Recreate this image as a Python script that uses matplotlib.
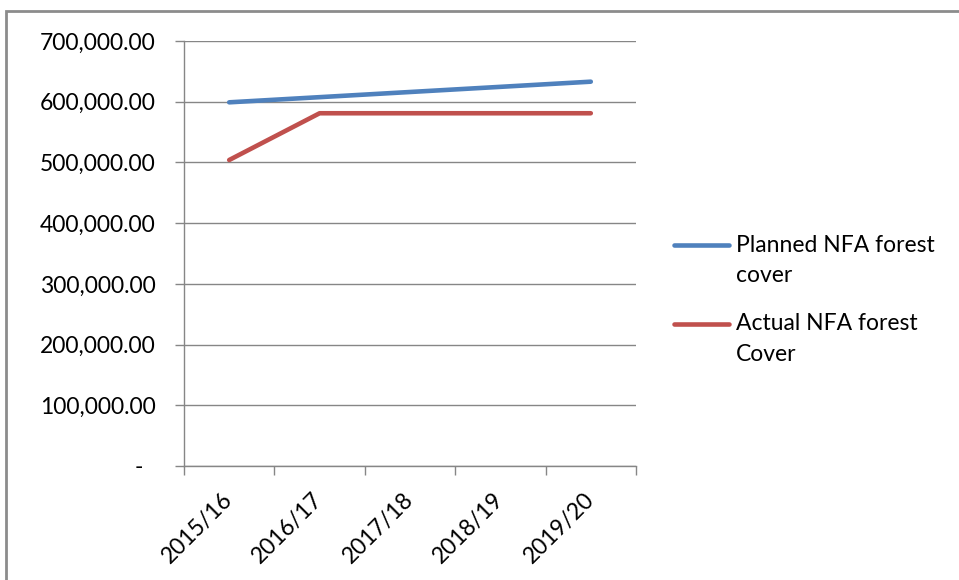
import numpy as np
import matplotlib.pyplot as plt
import matplotlib.transforms as mtransforms
from matplotlib.patches import Rectangle
from matplotlib.legend_handler import HandlerLine2D
from matplotlib.ticker import FuncFormatter, MultipleLocator, FixedLocator

plt.rcParams['font.family'] = ['Lato', 'DejaVu Sans']

years = ['2015/16', '2016/17', '2017/18', '2018/19', '2019/20']
planned = [599000, 607500, 616000, 624500, 633000]
actual = [504000, 581000, 581000, 581000, 581000]

BLUE = '#4F81BD'
RED = '#C0504D'
GRID = '#868686'
FS = 16.5


class FirstLineHandler(HandlerLine2D):
    # put the legend line level with the first line of a two-line label
    def create_artists(self, legend, orig_handle, xdescent, ydescent,
                       width, height, fontsize, trans):
        return super().create_artists(legend, orig_handle, xdescent,
                                      ydescent - 1.4 * fontsize, width,
                                      height, fontsize, trans)


fig = plt.figure(figsize=(9.59, 5.8), dpi=100)
fig.patches.append(Rectangle((6 / 959, -0.1), 1.2, 1 - 11 / 580 + 0.1,
                             transform=fig.transFigure, fill=False,
                             edgecolor='#8C8C8C', linewidth=2))

ax = fig.add_axes([184 / 959, 1 - 466 / 580, 452 / 959, 425 / 580])
x = np.arange(len(years))
ax.plot(x, planned, color=BLUE, lw=3.3, solid_capstyle='round',
        label='Planned NFA forest\ncover')
ax.plot(x, actual, color=RED, lw=3.3, solid_capstyle='round',
        label='Actual NFA forest\nCover')

ax.set_xlim(-0.5, len(years) - 0.5)
ax.set_ylim(0, 700000)
ax.yaxis.set_major_locator(MultipleLocator(100000))
ax.yaxis.set_major_formatter(FuncFormatter(
    lambda v, p: '-  ' if v == 0 else f'{v:,.2f}'))
ax.grid(axis='y', color=GRID, lw=1)
ax.set_axisbelow(True)

ax.set_xticks(x)
ax.set_xticklabels(years, rotation=45, ha='right', va='center',
                   rotation_mode='anchor')
shift = mtransforms.ScaledTranslation(6 / 100, -2 / 100, fig.dpi_scale_trans)
for lbl in ax.get_xticklabels():
    lbl.set_transform(lbl.get_transform() + shift)
ax.xaxis.set_minor_locator(FixedLocator(np.arange(-0.5, len(years), 1)))
ax.tick_params(axis='x', which='major', length=0, pad=22, labelsize=FS)
ax.tick_params(axis='x', which='minor', length=6.5, color=GRID, width=1)
ax.tick_params(axis='y', length=6.5, color=GRID, width=1, pad=14,
               labelsize=FS)

for side in ('top', 'right'):
    ax.spines[side].set_visible(False)
for side in ('left', 'bottom'):
    ax.spines[side].set_color(GRID)
    ax.spines[side].set_linewidth(1)

leg = ax.legend(loc='upper left', bbox_to_anchor=(1.064, 0.565),
                frameon=False, fontsize=FS, handlelength=2.4,
                handletextpad=0.3, labelspacing=1.18, borderaxespad=0,
                handler_map={plt.Line2D: FirstLineHandler()})
for t in leg.get_texts():
    t.set_linespacing(1.55)

fig.savefig('out.png', dpi=100)
